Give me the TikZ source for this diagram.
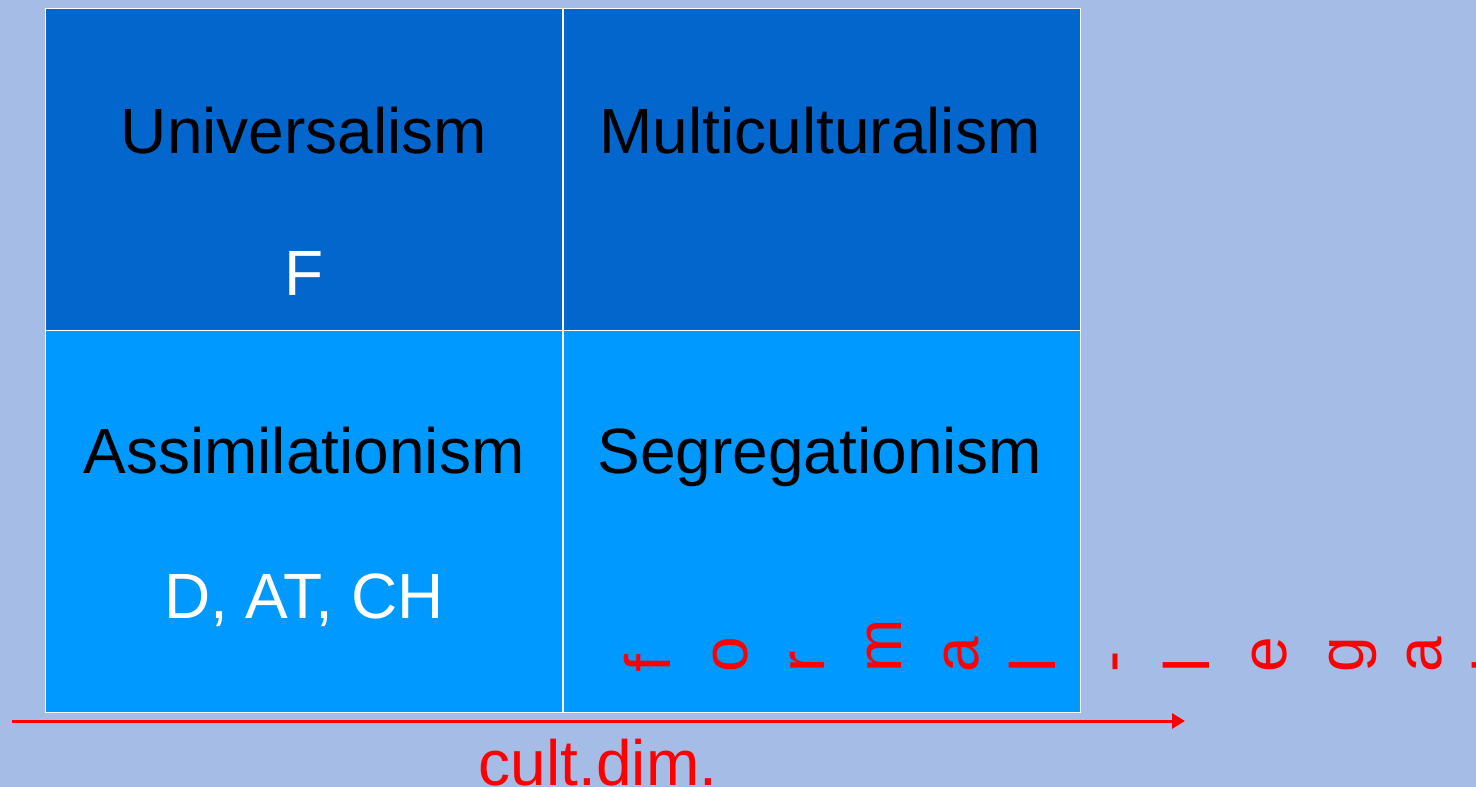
\documentclass[tikz,border=0pt]{standalone}
\usepackage{fontspec}
\setmainfont{Liberation Sans}
\usetikzlibrary{arrows.meta}
\definecolor{bgc}{RGB}{164,188,230}
\definecolor{topc}{RGB}{2,102,204}
\definecolor{botc}{RGB}{0,153,255}
\begin{document}
\begin{tikzpicture}[x=1pt,y=-1pt,
  cell/.style={draw=white,line width=1pt,anchor=north west,inner sep=0pt,minimum width=517pt},
  lbl/.style={inner sep=0pt,anchor=base,font=\fontsize{64}{77}\selectfont},
  rot/.style={inner sep=0pt,anchor=base west,rotate=90,text=red,font=\fontsize{64}{77}\selectfont}]
\clip (0,0) rectangle (1476,787);
\fill[bgc] (0,0) rectangle (1476,787);
\node[cell,fill=topc,minimum height=322pt] (ul) at (45,8) {};
\node[cell,fill=topc,minimum height=322pt] (ur) at (563,8) {};
\node[cell,fill=botc,minimum height=382pt] (ll) at (45,330) {};
\node[cell,fill=botc,minimum height=382pt] (lr) at (563,330) {};
\node[lbl] (t1) at (304,153) {Universalism};
\node[lbl,text=white] (t2) at (304,295) {F};
\node[lbl] (t3) at (820,153) {Multiculturalism};
\node[lbl] (t4) at (304,473) {Assimilationism};
\node[lbl,text=white] (t5) at (304,618) {D, AT, CH};
\node[lbl] (t6) at (820,473) {Segregationism};
\foreach \ch [count=\i from 0] in {f,o,r,m,a,l,-,l,e,g,a,l}
  \node[rot,name=fl\i] at ({670+77.1*\i},673) {\ch};
\coordinate (as) at (12,721);
\coordinate (ae) at (1185,721);
\draw[red,line width=3pt,-{Triangle[length=13pt,width=15pt]}] (as) -- (ae);
\node[lbl,text=red] (cd) at (598,785) {cult.dim.};
\end{tikzpicture}
\end{document}
